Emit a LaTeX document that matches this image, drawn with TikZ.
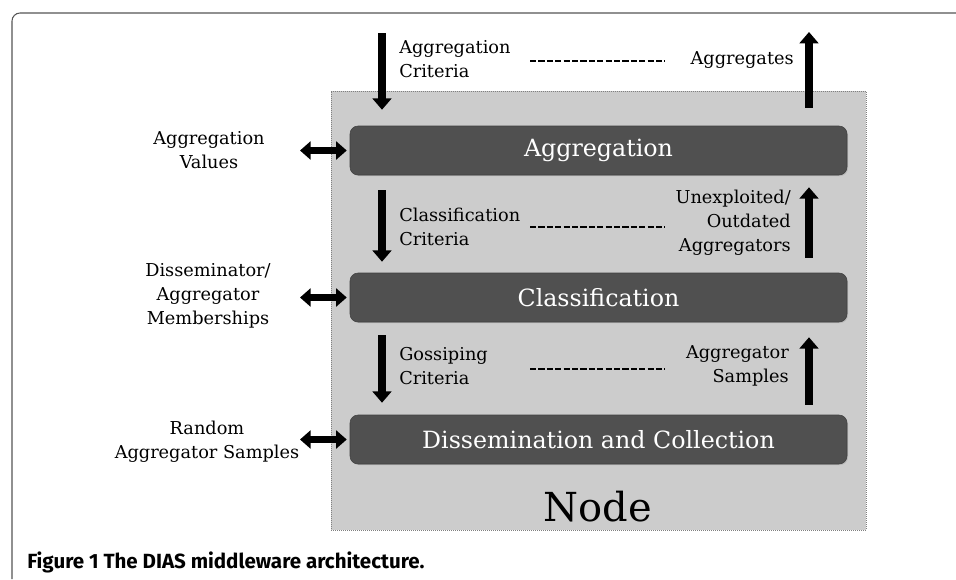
\documentclass[tikz,border=0pt]{standalone}
\usepackage{fontspec}
\setmainfont{DejaVu Serif}
\newfontfamily\capfont{Fira Sans}
\usetikzlibrary{arrows.meta,shadows}
\definecolor{boxdark}{HTML}{505050}
\definecolor{nodegray}{HTML}{CCCCCC}
\definecolor{framegray}{HTML}{555555}
\begin{document}
\begin{tikzpicture}[x=0.75pt,y=-0.75pt,
  lbl/.style={font=\fontsize{13.3}{18}\selectfont, inner sep=0pt},
  layer/.style={draw=black!75, fill=boxdark, rounded corners=6pt,
    minimum width=372.75pt, minimum height=36.75pt, text=white,
    font=\fontsize{17.8}{20}\selectfont,
    drop shadow={opacity=0.25, shadow xshift=0.8pt, shadow yshift=-0.8pt}},
  nodebox/.style={draw=gray, densely dotted, fill=nodegray, line width=0.5pt,
    minimum width=401.25pt, minimum height=329.25pt, inner sep=0pt},
  bigarrow/.style={line width=6pt, -{Triangle[width=14pt,length=8.5pt]}},
  dbl/.style={line width=5.2pt, {Triangle[width=13.5pt,length=8pt]}-{Triangle[width=13.5pt,length=8pt]}},
  dashline/.style={line width=2pt, dash pattern=on 4.6pt off 1.7pt}
]
\useasboundingbox (0,0) rectangle (956,579);
% outer frame
\draw[framegray, line width=0.8pt, rounded corners=6pt] (12,579) -- (12,13) -- (956,13);

% node box
\node[nodebox] (nodebox) at (598.5,310.5) {};
\node[font=\fontsize{30}{32}\selectfont, inner sep=0pt] (nodelbl) at (598,507) {Node};

% layers
\node[layer] (agg) at (598.5,150.5) {Aggregation};
\node[layer] (cls) at (598.5,297.5) {Classification};
\node[layer] (dis) at (598.5,439.5) {Dissemination and Collection};

% coordinates
\coordinate (in1) at (382,33);
\coordinate (out1) at (809,32);
\coordinate (lx) at (300,0);

% labels inside/top
\node[lbl, anchor=west, align=left] (acrit) at (399,59) {Aggregation\\Criteria};
\node[lbl, anchor=east, align=right] (aggs) at (794,60) {Aggregates};
\node[lbl, anchor=west, align=left] (ccrit) at (399,227) {Classification\\Criteria};
\node[lbl, anchor=east, align=right] (unexp) at (791,223) {Unexploited/\\Outdated\\Aggregators};
\node[lbl, anchor=west, align=left] (gcrit) at (399,366) {Gossiping\\Criteria};
\node[lbl, anchor=east, align=right] (asamp) at (789,366) {Aggregator\\Samples};

% left labels
\node[lbl, align=center] (avals) at (209,150) {Aggregation\\Values};
\node[lbl, align=center] (dmem) at (208,296) {Disseminator/\\Aggregator\\Memberships};
\node[lbl, align=center] (rsamp) at (207,442) {Random\\Aggregator Samples};

% dashed lines
\coordinate (d1a) at (530,61); \coordinate (d1b) at (665,61);
\coordinate (d2a) at (530,227); \coordinate (d2b) at (665,227);
\coordinate (d3a) at (530,369); \coordinate (d3b) at (665,369);
\draw[dashline] (d1a) -- (d1b);
\draw[dashline] (d2a) -- (d2b);
\draw[dashline] (d3a) -- (d3b);

% down arrows
\draw[bigarrow, shorten >=12pt] (in1) -- (agg.north -| in1);
\draw[bigarrow, shorten <=11.25pt, shorten >=8.25pt] (agg.south -| in1) -- (cls.north -| in1);
\draw[bigarrow, shorten <=9.75pt, shorten >=9pt] (cls.south -| in1) -- (dis.north -| in1);

% up arrows
\draw[bigarrow, shorten <=13.5pt] (agg.north -| out1) -- (out1);
\draw[bigarrow, shorten <=11.25pt, shorten >=9pt] (cls.north -| out1) -- (agg.south -| out1);
\draw[bigarrow, shorten <=7.5pt, shorten >=11.25pt] (dis.north -| out1) -- (cls.south -| out1);

% double arrows
\draw[dbl, shorten >=2.25pt] (agg.west -| lx) -- (agg.west);
\draw[dbl, shorten >=2.25pt] (cls.west -| lx) -- (cls.west);
\draw[dbl, shorten >=2.25pt] (dis.west -| lx) -- (dis.west);

% caption
\node[anchor=west, inner sep=0pt, font=\capfont\bfseries\fontsize{15.4}{17}\selectfont] (cap) at (27,562) {Figure 1 The DIAS middleware architecture.};
\end{tikzpicture}
\end{document}
